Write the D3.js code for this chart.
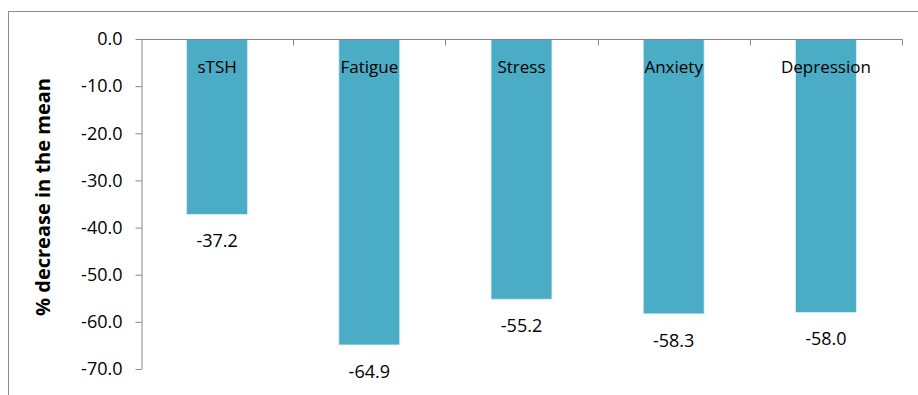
<!DOCTYPE html>
<html>
<head>
<meta charset="utf-8">
<script src="https://cdn.jsdelivr.net/npm/d3@7/dist/d3.min.js"></script>
<style>
  html, body { margin: 0; padding: 0; background: #fff; }
  svg { display: block; }
  text { font-family: "Open Sans", "Liberation Sans", sans-serif; fill: #000; }
</style>
</head>
<body>
<svg id="chart" width="918" height="395"></svg>
<script>
// Percent decrease in the mean for each measure
const categories = ["sTSH", "Fatigue", "Stress", "Anxiety", "Depression"];
const values = [-37.2, -64.9, -55.2, -58.3, -58.0];
const yTicks = [0, -10, -20, -30, -40, -50, -60, -70];

const svg = d3.select("#chart");
const plotLeft = 141, plotRight = 902, plotTop = 39, plotBottom = 369;
const fmt = d => d3.format(".1f")(d).replace("−", "-");

// outer chart frame
svg.append("rect")
  .attr("x", 8.5).attr("y", 11.5)
  .attr("width", 940).attr("height", 420)
  .attr("fill", "none").attr("stroke", "#8c8c8c").attr("stroke-width", 1);

const x = d3.scaleBand().domain(categories).range([plotLeft, plotRight]).paddingInner(0.6).paddingOuter(0.3);
const y = d3.scaleLinear().domain([0, -70]).range([plotTop, plotBottom]);

// bars
svg.append("g").selectAll("rect")
  .data(categories)
  .join("rect")
  .attr("x", d => x(d))
  .attr("y", y(0))
  .attr("width", x.bandwidth())
  .attr("height", (d, i) => y(values[i]) - y(0))
  .attr("fill", "#4BACC6")
  .attr("stroke", "#d6eef5").attr("stroke-width", 0.8);

// y axis
const yAxis = d3.axisLeft(y).tickValues(yTicks).tickSize(6).tickSizeOuter(0);
const gy = svg.append("g").attr("transform", `translate(${plotLeft + 0.5},0)`).call(yAxis);
gy.select(".domain").attr("stroke", "#868686");
gy.selectAll(".tick line").attr("stroke", "#868686");
gy.selectAll(".tick text").attr("font-size", 18).attr("x", -19).text(fmt);

// category axis along the zero line, ticks at band boundaries
const xBound = d3.scaleLinear().domain([0, categories.length]).range([plotLeft, plotRight]);
const gx = svg.append("g");
gx.append("line")
  .attr("x1", plotLeft).attr("x2", plotRight + 0.5)
  .attr("y1", y(0) + 0.5).attr("y2", y(0) + 0.5)
  .attr("stroke", "#868686");
gx.selectAll("line.tk")
  .data(d3.range(1, categories.length + 1))
  .join("line").attr("class", "tk")
  .attr("x1", d => Math.round(xBound(d)) + 0.5).attr("x2", d => Math.round(xBound(d)) + 0.5)
  .attr("y1", y(0) + 0.5).attr("y2", y(0) + 6.5)
  .attr("stroke", "#868686");

// category labels
svg.append("g").selectAll("text")
  .data(categories)
  .join("text")
  .attr("x", d => x(d) + x.bandwidth() / 2)
  .attr("y", y(0) + 34)
  .attr("text-anchor", "middle")
  .attr("font-size", 17)
  .text(d => d);

// value labels under each bar end
svg.append("g").selectAll("text")
  .data(values)
  .join("text")
  .attr("x", (d, i) => x(categories[i]) + x.bandwidth() / 2)
  .attr("y", d => y(d) + 33)
  .attr("text-anchor", "middle")
  .attr("font-size", 18)
  .text(fmt);

// y axis title
svg.append("text")
  .attr("transform", "translate(50,197) rotate(-90)")
  .attr("text-anchor", "middle")
  .attr("font-size", 20)
  .attr("font-weight", "bold")
  .text("% decrease in the mean");
</script>
</body>
</html>
